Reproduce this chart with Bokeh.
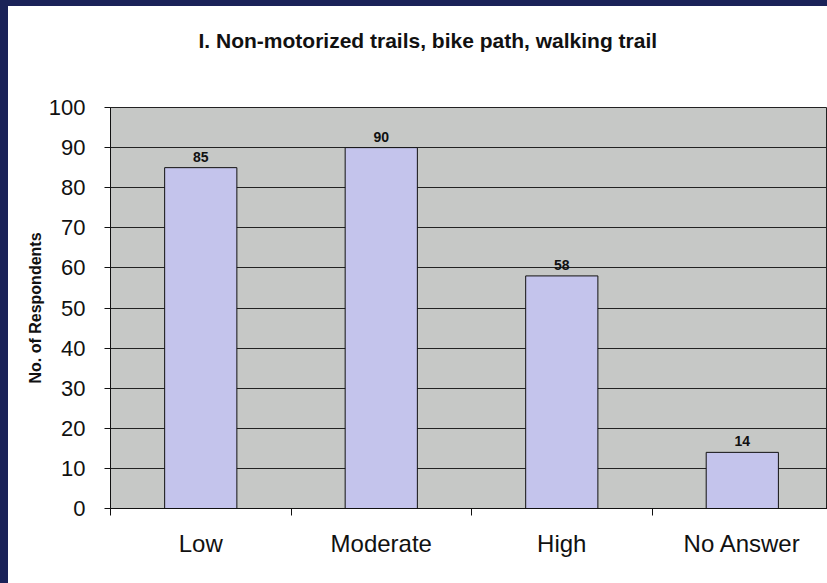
from bokeh.plotting import figure
from bokeh.models import Range1d, FixedTicker, ColumnDataSource, Title, GlobalInlineStyleSheet
from bokeh.core.properties import value
from bokeh.embed import file_html
from bokeh.resources import INLINE

categories = ["Low", "Moderate", "High", "No Answer"]
values = [85, 90, 58, 14]
y_ticks = [0, 10, 20, 30, 40, 50, 60, 70, 80, 90, 100]
title_text = "I. Non-motorized trails, bike path, walking trail"
y_label = "No. of Respondents"

centers = [i + 0.5 for i in range(len(categories))]
bounds = [float(i) for i in range(len(categories) + 1)]

FONT = "Liberation Sans"

p = figure(width=819, height=577,
           x_range=Range1d(0, 3.972), y_range=Range1d(0, 100),
           output_backend="svg", toolbar_location=None,
           min_border_left=102, min_border_right=0,
           min_border_top=101, min_border_bottom=75)

# main title (outermost panel above the frame)
p.title = Title(text=title_text, align="left", offset=88, standoff=10,
                text_font=FONT, text_font_size="21px", text_font_style="bold",
                text_color="#111111")
p.title_location = "above"
# blank spacer panel between the frame and the title
spacer = Title(text=" ", standoff=26, text_font=FONT, text_font_size="21px")
p.add_layout(spacer, "above")

p.background_fill_color = "#c6c8c6"
p.border_fill_color = "white"
p.outline_line_color = "#222222"
p.outline_line_width = 1

src = ColumnDataSource(dict(x=centers, top=values, lab=[str(v) for v in values], cat=categories))
p.vbar(x="x", top="top", width=0.4, bottom=0, source=src,
       fill_color="#c4c4ec", line_color="#111111", line_width=1)
p.text(x="x", y="top", text="lab", source=src, text_align="center",
       text_baseline="bottom", y_offset=-6, text_font=value(FONT),
       text_font_size="14px", text_font_style="bold", text_color="#111111")

# x axis
xa = p.xaxis[0]
xa.ticker = FixedTicker(ticks=centers, minor_ticks=bounds)
xa.major_label_overrides = {c: n for c, n in zip(centers, categories)}
xa.major_tick_line_color = None
xa.minor_tick_line_color = "#111111"
xa.minor_tick_out = 7
xa.minor_tick_in = 0
xa.axis_line_color = "#111111"
xa.major_label_text_font = FONT
xa.major_label_text_font_size = "24px"
xa.major_label_text_color = "#111111"
xa.major_label_standoff = 14

# y axis
ya = p.yaxis[0]
ya.ticker = FixedTicker(ticks=y_ticks, minor_ticks=[])
ya.major_tick_out = 6
ya.major_tick_in = 0
ya.major_tick_line_color = "#111111"
ya.axis_line_color = "#111111"
ya.major_label_text_font = FONT
ya.major_label_text_font_size = "22px"
ya.major_label_text_color = "#111111"
ya.major_label_standoff = 19
ya.axis_label = y_label
ya.axis_label_text_font = FONT
ya.axis_label_text_font_size = "16px"
ya.axis_label_text_font_style = "bold"
ya.axis_label_text_color = "#111111"
ya.axis_label_standoff = 2

p.xgrid.grid_line_color = None
p.ygrid.ticker = FixedTicker(ticks=y_ticks)
p.ygrid.grid_line_color = "#222222"
p.ygrid.grid_line_width = 1

p.stylesheets = [GlobalInlineStyleSheet(css=(
    "html { background: linear-gradient(#1a2258 6px, transparent 6px), "
    "linear-gradient(to right, #1a2258 8px, #ffffff 8px) !important; } "
    "body { box-sizing: border-box !important; margin: 0 !important; "
    "padding: 6px 0 0 8px !important; background: transparent !important; "
    "overflow: hidden !important; }"))]

open("out.html", "w").write(file_html(p, INLINE))
